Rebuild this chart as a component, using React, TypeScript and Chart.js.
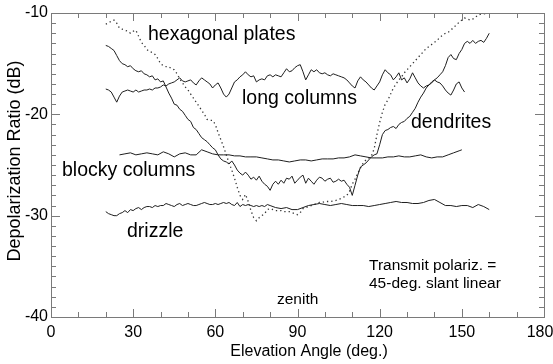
import React, { useEffect, useRef } from "react";
import { Chart, registerables } from "chart.js";

Chart.register(...registerables);

// ---------- data (elevation angle in degrees, depolarization ratio in dB) ----------
const dendritesX = [
  20, 21, 22, 23, 24, 25, 26, 27, 28, 29, 30, 31, 32, 33, 34, 35, 36, 37, 38, 39,
  40, 41, 42, 43, 44, 45, 46, 47, 48, 49, 50, 51, 52, 53, 54, 55, 56, 57, 58, 59,
  60, 61, 62, 63, 64, 65, 66, 67, 68, 69, 70, 71, 72, 73, 74, 75, 76, 77, 78, 79,
  80, 81, 82, 83, 84, 85, 86, 87, 88, 89, 90, 91, 92, 93, 94, 95, 96, 97, 98, 99,
  100, 101, 102, 103, 104, 105, 106, 107, 108, 109, 110, 111, 112, 113, 114, 115, 116, 117, 118, 119,
  120, 121, 122, 123, 124, 125, 126, 127, 128, 129, 130, 131, 132, 133, 134, 135, 136, 137, 138, 139,
  140, 141, 142, 143, 144, 145, 146, 147, 148, 149, 150, 151, 152, 153, 154, 155, 156, 157, 158, 159, 160,
];
const dendritesY = [
  -13.2, -13.3, -13.5, -13.7, -14.2, -14.7, -15.0, -15.1, -15.3, -15.2, -15.5, -15.7, -15.8, -15.7, -16.0, -16.1, -16.3, -16.2, -16.6, -16.5,
  -16.8, -16.7, -17.3, -17.9, -18.4, -19.0, -19.1, -19.5, -19.7, -20.1, -20.5, -20.7, -21.3, -21.5, -21.9, -22.3, -22.5, -22.7, -23.0, -23.3,
  -23.5, -24.0, -24.4, -24.6, -24.7, -24.9, -24.6, -25.0, -25.5, -25.8, -26.0, -25.7, -26.0, -26.4, -26.2, -26.5, -26.1, -26.6, -26.9, -27.1,
  -27.5, -26.9, -26.6, -26.9, -26.5, -26.8, -26.3, -26.4, -26.1, -26.8, -26.5, -26.2, -26.0, -26.8, -26.3, -26.6, -26.9, -26.5, -26.2, -26.3,
  -26.6, -26.4, -26.3, -26.7, -26.6, -26.4, -26.6, -26.5, -26.9, -27.2, -28.0, -27.0, -26.0, -25.2, -25.0, -24.8, -24.5, -24.2, -24.0, -23.9,
  -23.0, -22.0, -21.6, -21.5, -21.3, -21.2, -21.4, -21.0, -20.8, -20.7, -20.4, -20.2, -19.8, -19.4, -18.8, -18.3, -17.9, -17.4, -17.1, -16.9,
  -16.6, -16.4, -16.1, -15.8, -15.2, -14.4, -14.1, -14.5, -14.6, -14.0, -13.6, -13.0, -12.8, -13.0, -12.7, -13.0, -12.8, -12.7, -12.9, -12.5, -12.0,
];

const platesX = [
  20, 21, 22, 23, 24, 25, 26, 27, 28, 29, 30, 31, 32, 33, 34, 35, 36, 37, 38, 39,
  40, 41, 42, 43, 44, 45, 46, 47, 48, 49, 50, 51, 52, 53, 54, 55, 56, 57, 58, 59,
  60, 61, 62, 63, 64, 65, 66, 67, 68, 69, 70, 71, 72, 73, 74, 75, 76, 77, 78, 79,
  80, 81, 82, 83, 84, 85, 86, 87, 88, 89, 90, 91, 92, 93, 94, 95, 96, 97, 98, 99,
  100, 102, 104, 106, 108, 109, 110, 111, 112, 113, 114, 115, 116, 117, 118, 119,
  120, 121, 122, 123, 124, 125, 126, 127, 128, 129, 130, 131, 132, 133, 134, 135, 136, 137, 138, 139,
  140, 141, 142, 143, 144, 145, 146, 147, 148, 149, 150, 151, 152, 153, 154, 155, 156, 157, 158, 159, 160,
];
const platesY = [
  -11.1, -11.0, -10.8, -10.7, -11.0, -11.5, -11.6, -11.7, -11.8, -12.0, -11.8, -11.7, -12.3, -12.9, -13.2, -13.6, -13.8, -13.9, -14.1, -14.5,
  -15.0, -15.2, -15.3, -15.3, -15.5, -15.6, -16.0, -16.5, -16.9, -17.3, -17.6, -18.0, -18.4, -18.8, -19.2, -19.6, -20.0, -20.5, -20.6, -20.6,
  -21.0, -21.8, -22.5, -23.2, -24.0, -24.8, -25.5, -26.3, -27.2, -28.0, -28.4, -27.9, -28.6, -29.5, -30.2, -30.5, -30.2, -30.0, -29.8, -29.4,
  -29.3, -29.4, -29.5, -29.5, -29.5, -29.6, -29.6, -29.6, -29.7, -29.8, -29.9, -29.7, -29.3, -29.2, -29.1, -29.0, -28.9, -28.8, -28.7, -28.7,
  -28.6, -28.6, -28.5, -28.3, -28.0, -27.6, -26.9, -26.4, -25.8, -25.3, -24.8, -24.5, -24.3, -24.1, -23.4, -22.0,
  -20.8, -19.8, -19.0, -18.6, -18.0, -17.4, -17.0, -16.6, -16.3, -15.9, -15.6, -15.3, -15.0, -14.7, -14.4, -14.1, -13.8, -13.5, -13.3, -13.1,
  -12.9, -12.7, -12.4, -12.2, -12.0, -11.9, -11.7, -11.4, -11.2, -10.9, -10.7, -10.5, -10.6, -10.7, -10.6, -10.4, -10.2, -10.1, -10.1, -10.0, -10.0,
];

const longColumnsX = [
  20, 21, 22, 23, 24, 25, 26, 27, 28, 29, 30, 31, 32, 33, 34, 35, 36, 37, 38, 39,
  40, 41, 42, 43, 44, 45, 46, 47, 48, 49, 50, 51, 52, 53, 54, 55, 56, 57, 58, 59,
  60, 61, 62, 63, 64, 65, 66, 67, 68, 69, 70, 71, 72, 73, 74, 75, 76, 77, 78, 79,
  80, 81, 82, 83, 84, 85, 86, 87, 88, 89, 90, 91, 92, 93, 94, 95, 96, 97, 98, 99,
  100, 101, 102, 103, 104, 105, 106, 107, 108, 109, 110, 111, 112, 113, 114, 115, 116, 117, 118, 119,
  120, 121, 122, 123, 124, 125, 126, 127, 128, 129, 130, 131, 132, 133, 134, 135, 136, 137, 138, 139,
  140, 141, 142, 143, 144, 145, 146, 147, 148, 149, 150, 151,
];
const longColumnsY = [
  -17.5, -17.6, -17.8, -18.3, -18.8, -18.2, -17.8, -17.7, -17.6, -17.7, -17.8, -17.6, -17.8, -17.7, -17.6, -17.6, -17.5, -17.6, -17.4, -17.4,
  -17.3, -17.1, -17.2, -17.0, -16.9, -16.8, -16.6, -16.4, -16.7, -16.8, -16.7, -16.6, -16.9, -17.1, -16.7, -16.4, -16.6, -16.8, -17.0, -17.4,
  -17.1, -16.9, -17.4, -18.0, -18.3, -18.0, -17.4, -16.8, -16.6, -16.3, -16.1, -15.8, -16.1, -16.3, -16.2, -16.8, -16.6, -16.5, -16.6, -16.2,
  -16.1, -16.3, -16.1, -16.2, -16.3, -15.9, -15.5, -15.8, -15.7, -15.4, -15.2, -15.1, -15.8, -16.6, -16.1, -15.6, -15.8, -15.6, -15.9, -16.0,
  -15.9, -16.1, -16.2, -16.0, -16.1, -16.2, -16.3, -16.4, -16.6, -16.9, -17.2, -17.4, -16.7, -16.3, -16.6, -16.8, -17.1, -17.4, -17.6, -17.2,
  -16.8, -16.1, -15.6, -15.9, -16.1, -16.6, -16.3, -15.9, -16.6, -16.4, -16.9, -16.5, -15.9, -16.4, -16.9, -17.2, -17.4, -17.2, -17.1, -16.8,
  -16.6, -16.8, -16.9, -17.2, -17.6, -17.9, -18.1, -17.6, -17.0, -16.8, -17.4, -17.8,
];

const blockyX = [
  25, 27, 29, 31, 33, 35, 37, 39, 41, 43, 45, 47, 49, 51, 53, 55, 57, 59, 61, 63,
  65, 67, 69, 71, 73, 75, 77, 79, 81, 83, 85, 87, 89, 91, 93, 95, 97, 99, 101, 103,
  105, 107, 109, 111, 113, 115, 117, 119, 121, 123, 125, 127, 129, 131, 133, 135, 137, 139, 141, 143,
  145, 147, 149, 150,
];
const blockyY = [
  -24.0, -23.9, -23.8, -24.0, -23.9, -23.8, -23.9, -24.0, -23.7, -23.9, -24.2, -23.9, -23.8, -24.0, -24.0, -23.5, -23.7, -23.9, -24.0, -24.0,
  -24.0, -24.1, -24.1, -24.2, -24.2, -24.2, -24.3, -24.4, -24.5, -24.5, -24.6, -24.7, -24.6, -24.5, -24.5, -24.6, -24.5, -24.4, -24.4, -24.4,
  -24.3, -24.3, -24.2, -24.0, -24.1, -24.2, -24.3, -24.3, -24.3, -24.2, -24.2, -24.1, -24.2, -24.2, -24.1, -24.0, -24.2, -24.3, -24.2, -24.2,
  -24.0, -23.8, -23.6, -23.5,
];

const drizzleX = [
  20, 21, 22, 23, 24, 25, 26, 27, 28, 29, 30, 31, 32, 33, 34, 35, 36, 37, 38, 39,
  40, 41, 42, 43, 44, 45, 46, 47, 48, 49, 50, 51, 52, 53, 54, 55, 56, 57, 58, 59,
  60, 61, 62, 63, 64, 65, 66, 67, 68, 69, 70, 71, 72, 73, 74, 75, 76, 77, 78, 79,
  80, 82, 84, 86, 88, 90, 92, 94, 96, 98, 100, 102, 104, 106, 108, 110, 112, 114, 116, 118,
  120, 122, 124, 126, 128, 130, 132, 134, 136, 138, 140, 142, 144, 146, 148, 150, 152, 154, 156, 158, 160,
];
const drizzleY = [
  -29.6, -29.8, -29.9, -30.0, -30.0, -29.8, -29.7, -29.5, -29.7, -29.4, -29.5, -29.3, -29.2, -29.4, -29.2, -29.1, -29.1, -29.2, -29.0, -29.1,
  -29.0, -29.0, -28.8, -28.9, -29.0, -29.1, -28.9, -28.8, -29.0, -28.9, -28.8, -28.9, -29.0, -29.0, -28.9, -28.8, -28.7, -28.8, -28.9, -28.9,
  -28.8, -28.9, -28.8, -28.7, -28.8, -28.7, -28.9, -29.0, -28.7, -29.1, -28.9, -29.0, -28.9, -29.0, -29.1, -29.0, -29.1, -29.0, -29.1, -28.9,
  -29.0, -29.2, -29.3, -29.2, -29.4, -29.4, -29.2, -29.0, -28.9, -28.8, -28.9, -29.0, -28.9, -28.8, -28.9, -29.0, -29.0, -29.0, -29.1, -29.0,
  -28.9, -28.8, -28.7, -28.6, -28.7, -28.7, -28.8, -28.8, -28.7, -28.5, -28.4, -28.7, -29.0, -29.0, -29.1, -29.0, -29.0, -29.2, -28.9, -29.1, -29.4,
];

// ---------- axes ----------
const xMajorTicks = [0, 30, 60, 90, 120, 150, 180];
const xMinorTicks = [10, 20, 40, 50, 70, 80, 100, 110, 130, 140, 160, 170];
const yMajorTicks = [-40, -30, -20, -10];
const yMinorTicks = [
  -39, -38, -37, -36, -35, -34, -33, -32, -31,
  -29, -28, -27, -26, -25, -24, -23, -22, -21,
  -19, -18, -17, -16, -15, -14, -13, -12, -11,
];
const xTitle = "Elevation Angle (deg.)";
const yTitle = "Depolarization Ratio (dB)";

// ---------- annotations ----------
const annotationTexts = [
  "hexagonal plates",
  "long columns",
  "dendrites",
  "blocky columns",
  "drizzle",
  "Transmit polariz. =",
  "45-deg. slant linear",
  "zenith",
];

const FONT = '"Liberation Sans", Arial, Helvetica, sans-serif';

function pts(xs: number[], ys: number[]) {
  return xs.map((x, i) => ({ x, y: ys[i] }));
}

const axesPlugin = {
  id: "idlAxes",
  afterDatasetsDraw(chart: any) {
    const { ctx, chartArea: a, scales } = chart;
    const xs = scales.x;
    const ys = scales.y;
    ctx.save();
    ctx.strokeStyle = "#7a7a7a";
    ctx.lineWidth = 1;
    ctx.strokeRect(Math.round(a.left) + 0.5, Math.round(a.top) + 0.5, Math.round(a.right - a.left), Math.round(a.bottom - a.top));
    const majL = 8;
    const minL = 5;
    ctx.beginPath();
    const vt = (v: number, len: number) => {
      const px = Math.round(xs.getPixelForValue(v)) + 0.5;
      ctx.moveTo(px, a.bottom);
      ctx.lineTo(px, a.bottom - len);
      ctx.moveTo(px, a.top);
      ctx.lineTo(px, a.top + len);
    };
    const ht = (v: number, len: number) => {
      const py = Math.round(ys.getPixelForValue(v)) + 0.5;
      ctx.moveTo(a.left, py);
      ctx.lineTo(a.left + len, py);
      ctx.moveTo(a.right, py);
      ctx.lineTo(a.right - len, py);
    };
    xMajorTicks.forEach((v) => vt(v, majL));
    xMinorTicks.forEach((v) => vt(v, minL));
    yMajorTicks.forEach((v) => ht(v, majL + 1));
    yMinorTicks.forEach((v) => ht(v, minL));
    ctx.stroke();

    // tick labels
    ctx.fillStyle = "#000";
    ctx.font = `16px ${FONT}`;
    ctx.textAlign = "center";
    ctx.textBaseline = "middle";
    xMajorTicks.forEach((v) => {
      let px = xs.getPixelForValue(v);
      if (v === 180) px -= 4;
      ctx.fillText(String(v), px, 333);
    });
    ctx.textAlign = "right";
    yMajorTicks.forEach((v) => {
      ctx.fillText(String(v), a.left - 3, ys.getPixelForValue(v));
    });

    // axis titles
    ctx.font = `16px ${FONT}`;
    ctx.textAlign = "center";
    ctx.fillText(xTitle, 309, 352);
    ctx.save();
    ctx.font = `18px ${FONT}`;
    ctx.translate(15, 161);
    ctx.rotate(-Math.PI / 2);
    ctx.fillText(yTitle, 0, 0);
    ctx.restore();

    // annotations
    ctx.textAlign = "left";
    ctx.textBaseline = "alphabetic";
    ctx.font = `19.5px ${FONT}`;
    ctx.fillText(annotationTexts[0], 148, 40);
    ctx.fillText(annotationTexts[1], 242, 104);
    ctx.fillText(annotationTexts[2], 411, 128);
    ctx.fillText(annotationTexts[3], 62, 176);
    ctx.fillText(annotationTexts[4], 127, 237);
    ctx.font = `15.5px ${FONT}`;
    ctx.fillText(annotationTexts[5], 369, 270);
    ctx.fillText(annotationTexts[6], 369, 288);
    ctx.fillText(annotationTexts[7], 277, 304);
    ctx.restore();
  },
};

export default function App() {
  const ref = useRef<HTMLCanvasElement | null>(null);
  useEffect(() => {
    if (!ref.current) return;
    const solid = (label: string, data: any[]) => ({
      label,
      data,
      borderColor: "#1e1e1e",
      borderWidth: 1,
      pointRadius: 0,
      tension: 0,
      fill: false,
    });
    const chart = new Chart(ref.current, {
      type: "line",
      data: {
        datasets: [
          solid("dendrites", pts(dendritesX, dendritesY)),
          solid("long columns", pts(longColumnsX, longColumnsY)),
          solid("blocky columns", pts(blockyX, blockyY)),
          solid("drizzle", pts(drizzleX, drizzleY)),
          {
            label: "hexagonal plates",
            data: pts(platesX, platesY),
            borderColor: "#333",
            borderWidth: 1.3,
            borderDash: [1.3, 3],
            pointRadius: 0,
            tension: 0,
            fill: false,
          },
        ],
      },
      options: {
        responsive: false,
        maintainAspectRatio: false,
        animation: false,
        layout: { padding: { left: 51, right: 9, top: 13, bottom: 47 } },
        scales: {
          x: { type: "linear", min: 0, max: 180, display: false },
          y: { type: "linear", min: -40, max: -10, display: false },
        },
        plugins: { legend: { display: false }, tooltip: { enabled: false } },
      },
      plugins: [axesPlugin],
    });
    return () => chart.destroy();
  }, []);
  return (
    <div style={{ position: "fixed", left: 0, top: 0, width: 553, height: 364, background: "#fff" }}>
      <canvas ref={ref} width={553} height={364} style={{ display: "block" }} />
    </div>
  );
}
